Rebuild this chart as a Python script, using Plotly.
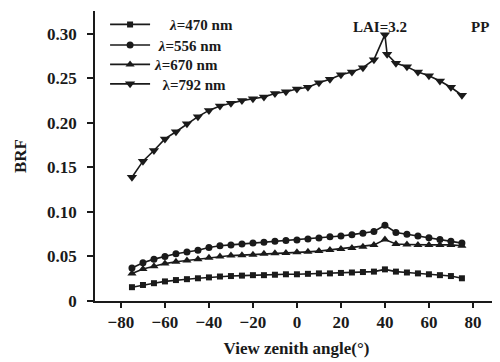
import plotly.graph_objects as go

# View zenith angles (degrees)
angles = [-75, -70, -65, -60, -55, -50, -45, -40, -35, -30, -25, -20, -15, -10, -5, 0,
          5, 10, 15, 20, 25, 30, 35, 40, 45, 50, 55, 60, 65, 70, 75]
angles_792 = [-75, -70, -65, -60, -55, -50, -45, -40, -35, -30, -25, -20, -15, -10, -5, 0,
              5, 10, 15, 20, 25, 30, 35, 40, 41, 45, 50, 55, 60, 65, 70, 75]

brf_470 = [0.0155, 0.018, 0.020, 0.022, 0.0235, 0.0245, 0.0255, 0.0265, 0.0275, 0.028, 0.0285,
           0.029, 0.029, 0.0295, 0.030, 0.030, 0.0305, 0.031, 0.031, 0.0315, 0.032, 0.0325,
           0.033, 0.0355, 0.033, 0.032, 0.031, 0.030, 0.029, 0.028, 0.0255]
brf_556 = [0.037, 0.043, 0.047, 0.050, 0.053, 0.055, 0.057, 0.060, 0.062, 0.063, 0.064,
           0.065, 0.066, 0.067, 0.068, 0.0685, 0.0696, 0.0707, 0.072, 0.073, 0.0745, 0.076,
           0.078, 0.085, 0.077, 0.075, 0.073, 0.071, 0.069, 0.067, 0.065]
brf_670 = [0.031, 0.036, 0.039, 0.042, 0.044, 0.0455, 0.047, 0.0485, 0.050, 0.051, 0.0515,
           0.052, 0.053, 0.0535, 0.054, 0.0548, 0.0552, 0.056, 0.0574, 0.0585, 0.0596, 0.061,
           0.063, 0.069, 0.064, 0.0635, 0.063, 0.063, 0.063, 0.063, 0.062]
brf_792 = [0.139, 0.157, 0.169, 0.182, 0.190, 0.199, 0.207, 0.214, 0.219, 0.222, 0.225,
           0.227, 0.229, 0.233, 0.235, 0.238, 0.240, 0.245, 0.249, 0.254, 0.257, 0.262,
           0.271, 0.299, 0.277, 0.267, 0.263, 0.257, 0.253, 0.247, 0.240, 0.231]

x_ticks = [-80, -60, -40, -20, 0, 20, 40, 60, 80]
x_ticklabels = ["\u221280", "\u221260", "\u221240", "\u221220", "0", "20", "40", "60", "80"]
y_ticks = [0, 0.05, 0.10, 0.15, 0.20, 0.25, 0.30]
y_ticklabels = ["0", "0.05", "0.10", "0.15", "0.20", "0.25", "0.30"]

names = ["\u00a0\u00a0\u00a0\u00a0<i>\u03bb</i>=470 nm",
         "\u00a0<i>\u03bb</i>=556 nm",
         "<i>\u03bb</i>=670 nm",
         "\u00a0\u00a0\u03bb=792 nm"]

INK = "#1a1a1a"
FONT = "Liberation Serif"

fig = go.Figure()
series = [
    (angles, brf_470, names[0], "square", 6, "legend"),
    (angles, brf_556, names[1], "circle", 7, "legend2"),
    (angles, brf_670, names[2], "triangle-up", 8, "legend3"),
    (angles_792, brf_792, names[3], "triangle-down", 9, "legend4"),
]
for xs, ys, nm, sym, sz, lg in series:
    fig.add_trace(go.Scatter(
        x=xs, y=ys, name=nm, mode="lines+markers", legend=lg,
        line=dict(color=INK, width=1.6),
        marker=dict(symbol=sym, size=sz, color=INK, line=dict(width=0)),
    ))

def legend_box(ypos):
    return dict(x=0.025, y=ypos, xanchor="left", yanchor="middle",
                bgcolor="rgba(0,0,0,0)", borderwidth=0,
                font=dict(family=FONT, size=15, color=INK, weight="bold"),
                itemwidth=40)

fig.update_layout(
    width=492, height=354,
    margin=dict(l=87, r=2, t=0, b=61),
    paper_bgcolor="white", plot_bgcolor="white",
    font=dict(family=FONT, size=17, color=INK, weight="bold"),
    showlegend=True,
    legend=legend_box(0.953),
    legend2=legend_box(0.882),
    legend3=legend_box(0.815),
    legend4=legend_box(0.748),
    xaxis=dict(range=[-91.8, 91.4], tickvals=x_ticks, ticktext=x_ticklabels,
               showgrid=False, zeroline=False, showline=True, linecolor=INK, linewidth=1.5,
               ticks="outside", ticklen=5, tickwidth=1.5, tickcolor=INK,
               title=dict(text="View zenith angle(\u00b0)", font=dict(size=17), standoff=11)),
    yaxis=dict(range=[0, 0.3256], tickvals=y_ticks, ticktext=y_ticklabels,
               showgrid=False, zeroline=False, showline=True, linecolor=INK, linewidth=1.5,
               ticks="outside", ticklen=6, tickwidth=1.5, tickcolor=INK,
               ticklabelstandoff=7,
               title=dict(text="BRF", font=dict(size=17), standoff=16)),
    annotations=[
        dict(text="LAI=3.2", xref="paper", yref="paper", x=0.707, y=0.945,
             xanchor="center", yanchor="middle", showarrow=False,
             font=dict(family=FONT, size=15, color=INK, weight="bold")),
        dict(text="PP", xref="paper", yref="paper", x=0.982, y=0.945,
             xanchor="right", yanchor="middle", showarrow=False,
             font=dict(family=FONT, size=15, color=INK, weight="bold")),
    ],
)

fig.write_html("out.html")
